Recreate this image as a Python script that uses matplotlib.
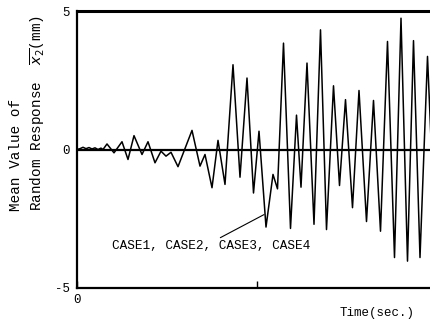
import matplotlib
matplotlib.use("Agg")
import matplotlib.pyplot as plt

# mean response curve
time_points = [
    0.0, 0.3, 0.6, 0.9, 1.2, 1.5, 1.8, 2.1, 2.4, 2.6,
    3.0, 3.7, 4.5, 5.1, 5.7, 6.5, 7.1, 7.8, 8.4, 8.9,
    9.4, 10.1, 11.5, 12.3, 12.8, 13.5, 14.1, 14.8, 15.6, 16.3,
    17.0, 17.65, 18.2, 18.9, 19.6, 20.05, 20.65, 21.35, 21.95, 22.4,
    23.0, 23.7, 24.35, 24.95, 25.65, 26.25, 26.85, 27.55, 28.2, 28.95,
    29.65, 30.35, 31.05, 31.75, 32.4, 33.05, 33.65, 34.3, 35.05, 35.5,
]
mean_response = [
    0.0, 0.03, 0.08, 0.03, 0.07, 0.02, 0.06, 0.0, 0.05, 0.0,
    0.2, -0.12, 0.28, -0.36, 0.5, -0.18, 0.28, -0.48, -0.06, -0.24,
    -0.1, -0.62, 0.69, -0.6, -0.18, -1.38, 0.33, -1.26, 3.06, -1.0,
    2.58, -1.57, 0.66, -2.8, -0.9, -1.42, 3.84, -2.85, 1.24, -1.36,
    3.12, -2.7, 4.32, -2.89, 2.3, -1.3, 1.8, -2.1, 2.13, -2.6,
    1.77, -2.95, 3.9, -3.9, 4.74, -4.03, 3.93, -3.9, 3.36, -0.5,
]

y_ticks = [5, 0, -5]
case_label = "CASE1, CASE2, CASE3, CASE4"

FONT = "Liberation Mono"

fig = plt.figure(figsize=(4.3, 3.24), dpi=100)
ax = fig.add_axes([77 / 430, 1 - 288 / 324, 1 - 77 / 430, (288 - 11) / 324])

ax.plot(time_points, mean_response, color="black", linewidth=1.1)
ax.axhline(0, color="black", linewidth=1.6, zorder=1)

ax.set_xlim(0, 35.3)
ax.set_ylim(-5, 5)

ax.spines["right"].set_visible(False)
ax.spines["top"].set_linewidth(2.2)
ax.spines["left"].set_linewidth(1.6)
ax.spines["bottom"].set_linewidth(1.6)

ax.set_yticks(y_ticks)
ax.set_yticklabels([str(v) for v in y_ticks], family=FONT, fontsize=9)
ax.tick_params(axis="y", length=0, pad=5)
ax.set_xticks([0, 18])
ax.set_xticklabels(["0", ""], family=FONT, fontsize=9)
ax.tick_params(axis="x", direction="in", length=5, width=1, pad=4)

ax.annotate(case_label, xy=(18.7, -2.35), xytext=(3.5, -3.5),
            family=FONT, fontsize=9.2, va="center",
            arrowprops=dict(arrowstyle="-", color="black", lw=0.8,
                            shrinkA=0, shrinkB=0,
                            relpos=(0.52, 1.0)))

fig.text(377 / 430, 1 - 313 / 324, "Time(sec.)", family=FONT, fontsize=9,
         ha="center", va="center")

fig.text(28 / 430, 1 - 211 / 324,
         "Mean Value of\nRandom Response  $\\overline{x_2}$(mm)",
         family=FONT, fontsize=10.4, rotation=90, ha="center", va="bottom",
         multialignment="left", linespacing=1.35)

fig.savefig("out.png", dpi=100)
